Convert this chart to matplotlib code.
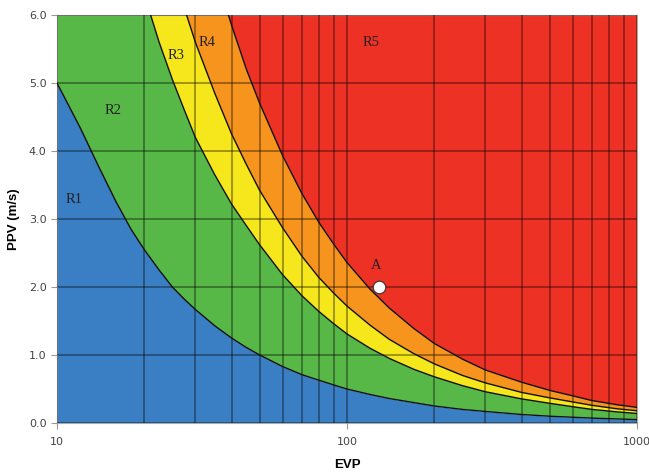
import matplotlib
matplotlib.use("Agg")
import matplotlib.pyplot as plt
from matplotlib.ticker import FixedLocator, NullFormatter

# ---- data ----
evp = [10, 12, 14, 16, 18, 20, 22.5, 25, 27.5, 30, 35, 40, 45, 50, 60, 70, 80, 90, 100,
       120, 140, 170, 200, 250, 300, 400, 500, 600, 700, 850, 1000]
# boundary R1/R2
b1 = [5.0, 4.35, 3.75, 3.25, 2.85, 2.55, 2.25, 2.0, 1.82, 1.67, 1.43, 1.25, 1.11, 1.0, 0.83, 0.71,
      0.63, 0.56, 0.5, 0.42, 0.36, 0.3, 0.25, 0.2, 0.17, 0.125, 0.1, 0.085, 0.072, 0.06, 0.05]
# boundary R2/R3
b2 = [12.6, 10.5, 9.0, 7.9, 7.0, 6.3, 5.6, 5.05, 4.6, 4.2, 3.65, 3.22, 2.9, 2.62, 2.18, 1.87,
      1.64, 1.46, 1.31, 1.1, 0.95, 0.79, 0.68, 0.55, 0.46, 0.355, 0.29, 0.24, 0.2, 0.165, 0.14]
# boundary R3/R4
b3 = [16.8, 14.0, 12.0, 10.5, 9.35, 8.4, 7.5, 6.75, 6.1, 5.6, 4.85, 4.25, 3.8, 3.42, 2.87, 2.45,
      2.14, 1.91, 1.72, 1.44, 1.23, 1.02, 0.87, 0.7, 0.59, 0.45, 0.37, 0.31, 0.26, 0.21, 0.18]
# boundary R4/R5
b4 = [23.2, 19.3, 16.6, 14.5, 12.9, 11.6, 10.3, 9.3, 8.45, 7.75, 6.65, 5.85, 5.2, 4.7, 3.93, 3.37,
      2.95, 2.63, 2.36, 1.97, 1.69, 1.39, 1.17, 0.94, 0.78, 0.6, 0.48, 0.4, 0.33, 0.27, 0.23]

region_names = ["R1", "R2", "R3", "R4", "R5"]
region_label_evp = [11.5, 15.6, 25.7, 32.9, 121]
region_label_ppv = [3.28, 4.6, 5.4, 5.6, 5.6]

point_name = "A"
point_evp = [129]
point_ppv = [2.0]

xticks = [10, 100, 1000]
xticklabels = ["10", "100", "1000"]
yticks = [0, 1, 2, 3, 4, 5, 6]
yticklabels = ["0.0", "1.0", "2.0", "3.0", "4.0", "5.0", "6.0"]

colors = ["#3a7fc4", "#58b847", "#f6e61c", "#f7941e", "#ee3125"]

fig = plt.figure(figsize=(6.49, 4.76), dpi=100)
ax = fig.add_axes([0.0878, 0.1113, 0.8937, 0.8572])
ax.set_xscale("log")
ax.set_xlim(10, 1000)
ax.set_ylim(0, 6)

zero = [0] * len(evp)
top = [6] * len(evp)
layers = [zero, b1, b2, b3, b4, top]
for i in range(5):
    ax.fill_between(evp, layers[i], layers[i + 1], color=colors[i], lw=0, zorder=1)
for b in [b1, b2, b3, b4]:
    ax.plot(evp, b, color="#111111", lw=1.0, zorder=3)

# grid
ax.xaxis.set_minor_locator(FixedLocator([m * d for d in (10, 100) for m in range(2, 10)]))
ax.xaxis.set_minor_formatter(NullFormatter())
ax.grid(True, which="both", axis="x", color="black", alpha=0.45, lw=1.1, zorder=2)
ax.grid(True, which="major", axis="y", color="black", alpha=0.45, lw=1.1, zorder=2)
ax.set_axisbelow(False)

ax.set_xticks(xticks)
ax.set_xticklabels(xticklabels)
ax.set_yticks(yticks)
ax.set_yticklabels(yticklabels)
ax.tick_params(axis="both", which="major", length=4, color="#999999", labelsize=8,
               labelcolor="#444444", width=0.8)
ax.tick_params(axis="x", which="minor", length=0)
ax.tick_params(axis="x", pad=6)
for s in ax.spines.values():
    s.set_color("#aaaaaa")
    s.set_linewidth(0.8)

for name, ex, py in zip(region_names, region_label_evp, region_label_ppv):
    ax.text(ex, py, name, family="Liberation Serif", fontsize=10.5, color="#222222",
            ha="center", va="center", zorder=5)

ax.plot(point_evp, point_ppv, "o", ms=9, mfc="white", mec="#333333", mew=0.8, zorder=6)
ax.text(point_evp[0] * 0.975, point_ppv[0] + 0.32, point_name, family="Liberation Serif",
        fontsize=10.5, color="#222222", ha="center", va="center", zorder=6)

ax.set_xlabel("EVP", fontsize=9.5, fontweight="bold", family="Liberation Sans", labelpad=9)
ax.set_ylabel("PPV (m/s)", fontsize=9.5, fontweight="bold", family="Liberation Sans", labelpad=6)

fig.savefig("out.png", dpi=100)
